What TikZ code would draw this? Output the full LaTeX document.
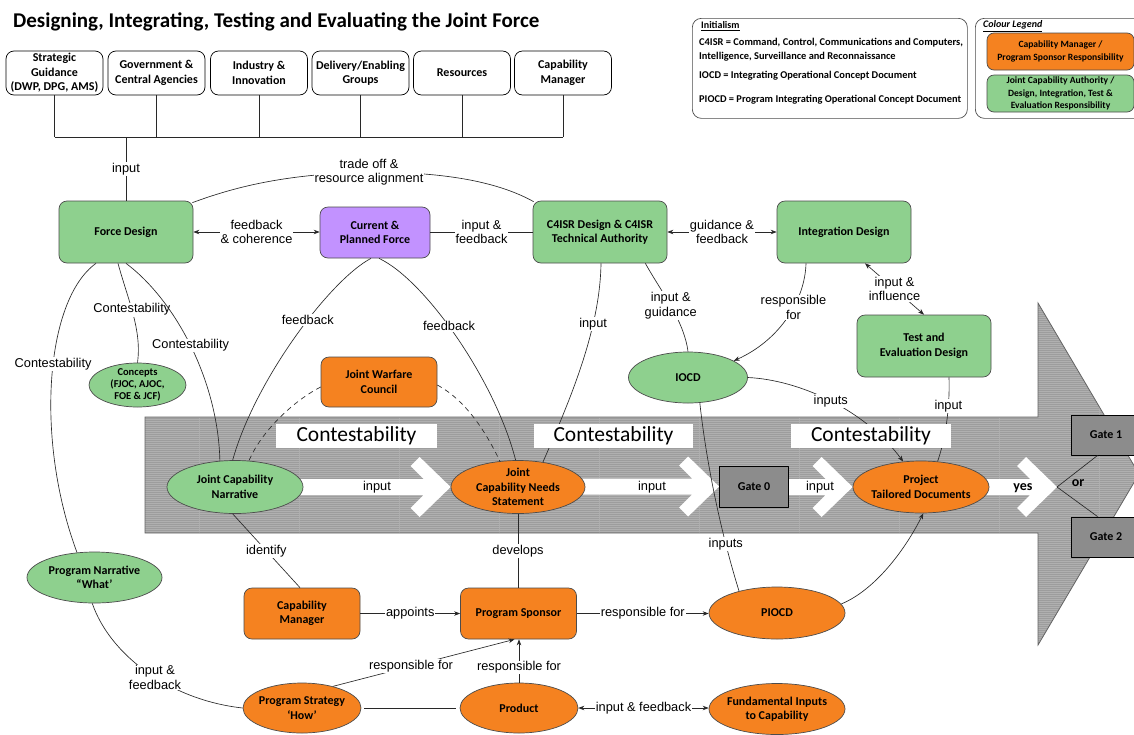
\documentclass[tikz,border=0pt]{standalone}
\usepackage{fontspec}
\setmainfont{Carlito}
\newfontfamily\labelfamily{Liberation Sans}
\usetikzlibrary{arrows.meta,calc,shapes.geometric,patterns}

\definecolor{jfGreen}{RGB}{142,208,142}
\definecolor{jfOrange}{RGB}{245,130,32}
\definecolor{jfPurple}{RGB}{194,146,255}
\definecolor{jfGate}{RGB}{140,140,140}
\definecolor{jfBand}{RGB}{176,176,176}
\definecolor{jfStripe}{RGB}{148,148,148}
\definecolor{jfBandEdge}{RGB}{100,100,100}
\definecolor{jfLine}{RGB}{40,40,40}

% fine horizontal hatching for the band
\pgfdeclarepatternformonly{jffinelines}{\pgfpointorigin}{\pgfqpoint{100pt}{2pt}}{\pgfqpoint{100pt}{2pt}}%
  {\pgfpathrectangle{\pgfpointorigin}{\pgfqpoint{100pt}{0.8pt}}\pgfusepath{fill}}

\pgfdeclarelayer{bg}
\pgfdeclarelayer{front}
\pgfsetlayers{bg,main,front}

% white block arrow with a chevron head, from the x of #1 to the point #2
\newcommand{\flowarrow}[2]{%
  \fill[white] ($(#1 |- #2)+(0,-8)$) -- ($(#2)+(-27,-8)$) -- ($(#2)+(-40,-21)$)
    -- ($(#2)+(-31,-30)$) -- (#2) -- ($(#2)+(-31,30)$) -- ($(#2)+(-40,21)$)
    -- ($(#2)+(-27,8)$) -- ($(#1 |- #2)+(0,8)$) -- cycle;}

\tikzset{
  nodetext/.style={font=\bfseries\fontsize{12}{14.5}\selectfont, align=center, text=black},
  shapeline/.style={draw=black!70, line width=0.7pt},
  gbox/.style={nodetext, shapeline, rectangle, rounded corners=8pt, fill=jfGreen, inner sep=0pt},
  obox/.style={nodetext, shapeline, rectangle, rounded corners=8pt, fill=jfOrange, inner sep=0pt},
  pbox/.style={nodetext, shapeline, rectangle, rounded corners=8pt, fill=jfPurple, inner sep=0pt},
  gell/.style={nodetext, shapeline, ellipse, fill=jfGreen, inner sep=-6pt},
  oell/.style={nodetext, shapeline, ellipse, fill=jfOrange, inner sep=-6pt},
  topbox/.style={nodetext, draw=black, line width=0.7pt, rounded corners=8pt, fill=white,
    inner sep=0pt, minimum width=97pt, minimum height=44pt},
  gatebox/.style={nodetext, draw=black, line width=0.8pt, fill=jfGate, inner sep=0pt},
  contbox/.style={fill=white, font=\fontsize{21.5}{24}\selectfont, inner sep=0pt, minimum height=24pt},
  lbl/.style={font=\labelfamily\fontsize{12.8}{14.5}\selectfont, fill=white, inner sep=1pt, align=center},
  flowlbl/.style={font=\labelfamily\fontsize{12.8}{14.5}\selectfont, inner sep=0pt},
  link/.style={draw=jfLine, line width=0.65pt},
  onehead/.style={-{Stealth[length=6pt,width=4.5pt]}},
  twohead/.style={{Stealth[length=6pt,width=4.5pt]}-{Stealth[length=6pt,width=4.5pt]}},
  legtext/.style={font=\bfseries\fontsize{10.4}{12.5}\selectfont, anchor=west, inner sep=0pt},
  legbox/.style={nodetext, font=\bfseries\fontsize{9.6}{12.8}\selectfont, shapeline, rounded corners=7pt, inner sep=0pt},
}

\begin{document}
\begin{tikzpicture}[x=1pt, y=-1pt, line join=round]
\useasboundingbox (0,0) rectangle (1134,734);

% ---------- title and legends ----------
\node[anchor=west, inner sep=0pt, font=\bfseries\fontsize{21}{24}\selectfont] (title) at (13,22)
  {Designing, Integrating, Testing and Evaluating the Joint Force};

\node[draw=black!70, line width=0.7pt, rounded corners=9pt, minimum width=275pt, minimum height=100pt,
  anchor=north west] (initbox) at (692,18) {};
\node[legtext, font=\bfseries\fontsize{10}{12}\selectfont] (inith) at (701,26) {\underline{Initialism}};
\node[legtext] (init1) at (699,43) {C4ISR = Command, Control, Communications and Computers,};
\node[legtext] (init2) at (699,57) {Intelligence, Surveillance and Reconnaissance};
\node[legtext] (init3) at (699,76) {IOCD = Integrating Operational Concept Document};
\node[legtext] (init4) at (699,100) {PIOCD = Program Integrating Operational Concept Document};

\node[draw=black!70, line width=0.7pt, rounded corners=9pt, minimum width=175pt, minimum height=100pt,
  anchor=north west] (colbox) at (975,18) {};
\node[legtext, font=\bfseries\itshape\fontsize{10}{12}\selectfont] (colh) at (983,26) {\underline{Colour Legend}};
\node[legbox, fill=jfOrange, minimum width=147pt, minimum height=37pt] (colo) at (1060.5,51.5)
  {Capability Manager /\\Program Sponsor Responsibility};
\node[legbox, fill=jfGreen, minimum width=147pt, minimum height=37pt] (colg) at (1060.5,93.5)
  {Joint Capability Authority /\\Design, Integration, Test \&\\Evaluation Responsibility};

% ---------- top row of inputs ----------
\node[topbox] (sg)  at (54.5,73)  {Strategic\\Guidance\\(DWP, DPG, AMS)};
\node[topbox] (gov) at (156.5,73) {Government \&\\Central Agencies};
\node[topbox] (ind) at (259,73)   {Industry \&\\Innovation};
\node[topbox] (deg) at (360.5,73) {Delivery/Enabling\\Groups};
\node[topbox] (res) at (462,73)   {Resources};
\node[topbox] (cmh) at (563,73)   {Capability\\Manager};

% ---------- design nodes ----------
\node[gbox, minimum width=134pt, minimum height=62pt] (fd)   at (126,232)   {Force Design};
\node[pbox, minimum width=110pt, minimum height=51pt] (cpf)  at (375,232.5) {Current \&\\Planned Force};
\node[gbox, minimum width=134pt, minimum height=62pt] (c4)   at (600,232)   {C4ISR Design \& C4ISR\\Technical Authority};
\node[gbox, minimum width=134pt, minimum height=62pt] (intd) at (844,232)   {Integration Design};
\node[gbox, minimum width=134pt, minimum height=62pt] (ted)  at (924,346)   {Test and\\Evaluation Design};
\node[gell, minimum width=97pt, minimum height=44pt, font=\bfseries\fontsize{10.5}{12}\selectfont] (con)
  at (137.5,385) {Concepts\\(FJOC, AJOC,\\FOE \& JCF)};
\node[obox, minimum width=116pt, minimum height=50pt] (jwc)  at (379,382)   {Joint Warfare\\Council};
\node[gell, minimum width=119pt, minimum height=51pt] (iocd) at (688,377.5) {IOCD};

% ---------- nodes on the capability band ----------
\node[gell, minimum width=136pt, minimum height=53pt] (jcn)  at (235,487) {Joint Capability\\Narrative};
\node[oell, minimum width=134pt, minimum height=53pt] (jcns) at (518,487) {Joint\\Capability Needs\\Statement};
\node[gatebox, minimum width=69pt, minimum height=41pt] (g0) at (754,486.5) {Gate 0};
\node[oell, minimum width=136pt, minimum height=52pt] (ptd)  at (921,487) {Project\\Tailored Documents};
\node[gatebox, minimum width=70pt, minimum height=40pt] (g1) at (1106,435) {Gate 1};
\node[gatebox, minimum width=70pt, minimum height=40pt] (g2) at (1106,537) {Gate 2};
\coordinate (orpt) at (1057,487);

% ---------- program nodes ----------
\node[gell, minimum width=135pt, minimum height=51pt] (progn) at (94.5,577.5) {Program Narrative\\“What’};
\node[obox, minimum width=116pt, minimum height=51pt] (capm)  at (302,613.5)  {Capability\\Manager};
\node[obox, minimum width=116pt, minimum height=51pt] (ps)    at (518.5,613.5) {Program Sponsor};
\node[oell, minimum width=136pt, minimum height=52pt] (piocd) at (777,613)   {PIOCD};
\node[oell, minimum width=118pt, minimum height=50pt] (pst)   at (302,708)   {Program Strategy\\‘How’};
\node[oell, minimum width=118pt, minimum height=50pt] (prod)  at (519,708)   {Product};
\node[oell, minimum width=136pt, minimum height=51pt] (fic)   at (777,709)   {Fundamental Inputs\\to Capability};

% ---------- the capability band and its flow arrows ----------
\begin{pgfonlayer}{bg}
  \fill[white] (0,0) rectangle (1134,734);
  \path[preaction={fill=jfBand}, pattern=jffinelines, pattern color=jfStripe,
        draw=jfBandEdge, line width=0.8pt]
    (145,417) -- (1038,417) -- (1038,303) -- (1139,474) -- (1038,645) -- (1038,533) -- (145,533) -- cycle;
  \flowarrow{jcn.center}{jcns.west}
  \flowarrow{jcns.center}{g0.west}
  \flowarrow{g0.center}{ptd.west}
  \flowarrow{ptd.center}{orpt}
\end{pgfonlayer}
\node[flowlbl] (fl1) at (377,487) {input};
\node[flowlbl] (fl2) at (652,487) {input};
\node[flowlbl] (fl3) at (820,487) {input};
\node[inner sep=0pt, font=\bfseries\fontsize{14}{16}\selectfont] (yes) at (1023,488) {yes};
\node[inner sep=0pt, font=\bfseries\fontsize{14}{16}\selectfont] (orl) at (1078,483) {or};
\draw[link] (orpt) -- ([xshift=27pt]g1.south west);
\draw[link] (orpt) -- ([xshift=27pt]g2.north west);

% ---------- connectors ----------
\coordinate (bus) at (0,137);
\foreach \b in {sg,gov,ind,deg,res,cmh} \draw[link] (\b.south) -- (\b.south |- bus);
\draw[link] (sg.south |- bus) -- (cmh.south |- bus);
\draw[link] (fd.north) -- (fd.north |- bus) node[lbl, midway] (l1) {input};

\draw[link, twohead] (fd.east) -- (fd.east -| cpf.west) node[lbl, midway] (l2) {feedback\\\& coherence};
\draw[link] (cpf.east |- c4.west) -- (c4.west) node[lbl, midway] (l3) {input \&\\feedback};
\draw[link, twohead] (c4.east) -- (intd.west) node[lbl, midway] (l4) {guidance \&\\feedback};
\draw[link] ([xshift=-1pt,yshift=-2pt]fd.north east) .. controls (240,185) and (290,174) .. (369,172)
  node[lbl] (l5) {trade off \&\\resource alignment}
  .. controls (450,172) and (500,183) .. ([xshift=1pt,yshift=-1pt]c4.north west);
\draw[link, twohead] ([xshift=21pt]intd.south) -- (ted.north) node[lbl, pos=0.5] (l6) {input \&\\influence};
\draw[link] ([xshift=-22pt]c4.south east) .. controls (660,290) and (684,320) .. (iocd.north)
  node[lbl, pos=0.5] (l7) {input \&\\guidance};
\draw[link, onehead] ([xshift=-38pt]intd.south) .. controls (805,300) and (780,340) .. (iocd.20)
  node[lbl, pos=0.4] (l8) {responsible\\for};
\draw[link] ([xshift=1pt]c4.south) .. controls (600,330) and (570,400) .. (jcns.45)
  node[lbl, pos=0.3] (l9) {input};
\draw[link, onehead] (iocd.east) .. controls (800,380) and (865,410) .. (ptd.125)
  node[lbl, pos=0.5] (l10) {inputs};
\draw[link] ([xshift=25pt]ted.south) .. controls (950,410) and (945,440) .. (ptd.57)
  node[lbl, pos=0.3] (l11) {input};
\draw[link] (iocd.-65) .. controls (706,460) and (720,530) .. (piocd.150)
  node[lbl, pos=0.75] (l12) {inputs};
\draw[link, onehead] (piocd.8) .. controls (875,590) and (905,550) .. (ptd.-85);

\draw[link] ([xshift=-8pt]fd.south) .. controls (128,300) and (142,330) .. (con.north)
  node[lbl, pos=0.45] (l13) {Contestability};
\draw[link] (fd.south) .. controls (175,300) and (218,380) .. (jcn.120)
  node[lbl, pos=0.5] (l14) {Contestability};
\draw[link] ([xshift=-30pt]fd.south) .. controls (45,300) and (35,440) .. (progn.125)
  node[lbl, pos=0.45] (l15) {Contestability};
\draw[link] ([xshift=-4pt]cpf.south) .. controls (330,280) and (255,380) .. (jcn.95)
  node[lbl, pos=0.42] (l16) {feedback};
\draw[link] ([xshift=4pt]cpf.south) .. controls (425,280) and (495,380) .. (jcns.95)
  node[lbl, pos=0.45] (l17) {feedback};
\draw[link, dash pattern=on 5pt off 4pt] ([yshift=-5pt]jwc.west) .. controls (295,400) and (262,430) .. (jcn.62);
\draw[link, dash pattern=on 5pt off 4pt] ([yshift=-3pt]jwc.east) .. controls (465,400) and (485,430) .. (jcns.125);

\draw[link] (jcn.-95) -- ([xshift=-2pt]capm.north) node[lbl, midway] (l18) {identify};
\draw[link] (jcns.south) -- (jcns.south |- ps.north) node[lbl, midway] (l19) {develops};
\draw[link, onehead] (capm.east) -- (ps.west) node[lbl, midway] (l20) {appoints};
\draw[link, onehead] (ps.east) -- (ps.east -| piocd.west) node[lbl, midway] (l21) {responsible for};
\draw[link, onehead] (pst.35) -- ([xshift=-4pt]ps.south) node[lbl, pos=0.43] (l22) {responsible for};
\draw[link, onehead] (prod.north) -- (prod.north |- ps.south) node[lbl, pos=0.35] (l23) {responsible for};
\draw[link, shorten <=3pt, shorten >=4pt] (pst.east) -- (prod.west);
\draw[link, twohead] (prod.east) -- (prod.east -| fic.west) node[lbl, midway] (l24) {input \& feedback};
\draw[link] (progn.-95) .. controls (110,655) and (170,700) .. (pst.west)
  node[lbl, pos=0.55] (l25) {input \&\\feedback};

% ---------- contestability banners over the band ----------
\begin{pgfonlayer}{front}
  \node[contbox, minimum width=161pt] (ct1) at (356.5,435.5) {Contestability};
  \node[contbox, minimum width=159pt] (ct2) at (613.5,435.5) {Contestability};
  \node[contbox, minimum width=160pt] (ct3) at (871,435.5)   {Contestability};
\end{pgfonlayer}
\end{tikzpicture}
\end{document}
